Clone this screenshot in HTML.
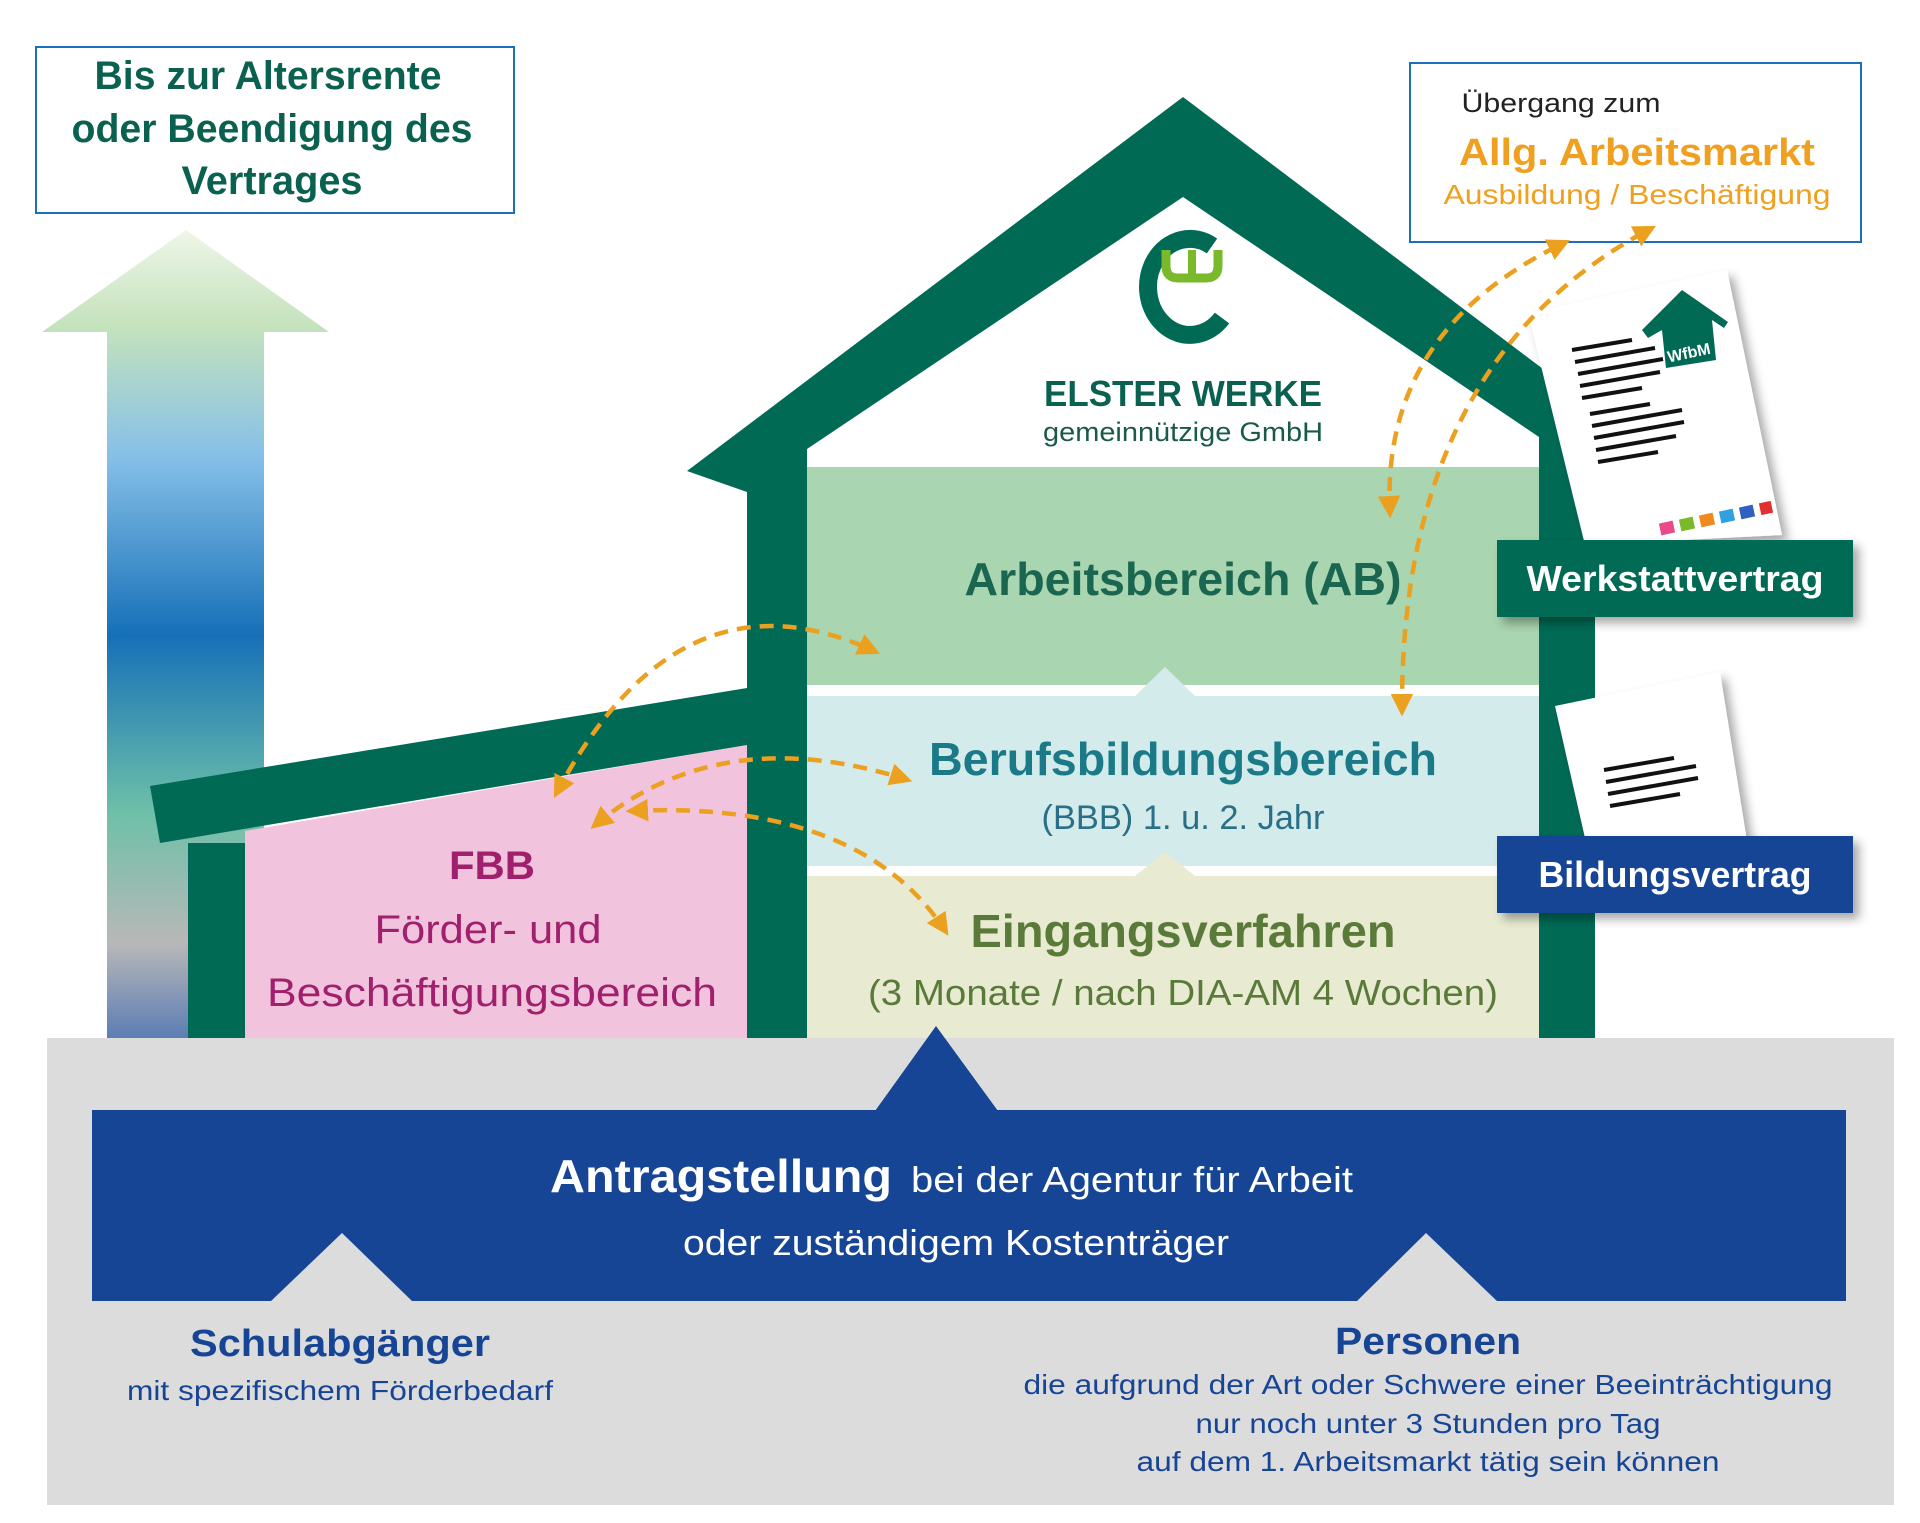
<!DOCTYPE html>
<html><head><meta charset="utf-8"><style>
html,body{margin:0;padding:0;background:#fff;}
svg{display:block;font-family:"Liberation Sans",sans-serif;}
</style></head><body>
<svg width="1920" height="1523" viewBox="0 0 1920 1523" xmlns="http://www.w3.org/2000/svg">
<defs>
<linearGradient id="ag" x1="0" y1="0" x2="0" y2="1">
<stop offset="0" stop-color="#eef6e8"/>
<stop offset="0.12" stop-color="#c4e2bc"/>
<stop offset="0.28" stop-color="#86c0e8"/>
<stop offset="0.50" stop-color="#1670b8"/>
<stop offset="0.72" stop-color="#6ec0a8"/>
<stop offset="0.88" stop-color="#b8b8b8"/>
<stop offset="1" stop-color="#5b7cb4"/>
</linearGradient>
<marker id="ah" viewBox="0 0 10 10" refX="8" refY="5" markerWidth="5" markerHeight="5" orient="auto-start-reverse" markerUnits="strokeWidth">
<path d="M0,0 L10,5 L0,10 z" fill="#eba020"/>
</marker>
<filter id="sh" x="-10%" y="-10%" width="130%" height="140%"><feDropShadow dx="6" dy="6" stdDeviation="5" flood-color="#000" flood-opacity="0.35"/></filter>
</defs>

<!-- top-left box -->
<rect x="36" y="47" width="478" height="166" fill="#fff" stroke="#1a6fc0" stroke-width="2"/>
<g fill="#0b6150" font-weight="bold" font-size="40" text-anchor="middle">
<text x="268" y="89" textLength="347" lengthAdjust="spacingAndGlyphs">Bis zur Altersrente</text>
<text x="272" y="142" textLength="401" lengthAdjust="spacingAndGlyphs">oder Beendigung des</text>
<text x="272" y="194" textLength="181" lengthAdjust="spacingAndGlyphs">Vertrages</text>
</g>

<!-- arrow -->
<polygon points="186,230 329,332 264,332 264,1040 107,1040 107,332 42,332" fill="url(#ag)"/>

<!-- gray base -->
<rect x="47" y="1038" width="1847" height="467" fill="#dcdcdc"/>

<!-- bands -->
<rect x="807" y="467" width="732" height="218" fill="#a9d5b0"/>
<rect x="807" y="696" width="732" height="170" fill="#d4ebec"/>
<polygon points="1135,696 1165,667 1195,696" fill="#d4ebec"/>
<rect x="807" y="876" width="732" height="162" fill="#e8ebd2"/>
<polygon points="1135,876 1165,852 1195,876" fill="#e8ebd2"/>

<!-- pink annex -->
<polygon points="245,831 747,745 747,1038 245,1038" fill="#f2c3dc"/>
<polygon points="150,786 747,688 747,745 160,843" fill="#006a55"/>
<rect x="188" y="843" width="57" height="195" fill="#006a55"/>

<!-- house -->
<polygon points="687,471 1183,97 1600,412 1595,412 1595,1038 1539,1038 1539,437 1183,197 807,449 807,1038 747,1038 747,492" fill="#006a55"/>

<!-- logo -->
<path d="M1212,246 A42,48 0 1 0 1222,318" fill="none" stroke="#006a55" stroke-width="18"/>
<path d="M1166,250 L1166,266 Q1166,278 1178,278 L1206,278 Q1218,278 1218,266 L1218,250" fill="none" stroke="#7ab929" stroke-width="9"/>
<line x1="1192" y1="250" x2="1192" y2="276" stroke="#7ab929" stroke-width="8"/>
<text x="1183" y="406" fill="#0b6150" font-weight="bold" font-size="36" text-anchor="middle" textLength="278" lengthAdjust="spacingAndGlyphs">ELSTER WERKE</text>
<text x="1183" y="441" fill="#1a5a48" font-size="27" text-anchor="middle" textLength="280" lengthAdjust="spacingAndGlyphs">gemeinnützige GmbH</text>

<!-- band texts -->
<text x="1183" y="595" fill="#1a6650" font-weight="bold" font-size="46" text-anchor="middle" textLength="437" lengthAdjust="spacingAndGlyphs">Arbeitsbereich (AB)</text>
<text x="1183" y="775" fill="#1b7a88" font-weight="bold" font-size="46" text-anchor="middle" textLength="508" lengthAdjust="spacingAndGlyphs">Berufsbildungsbereich</text>
<text x="1183" y="829" fill="#2a6f88" font-size="34" text-anchor="middle" textLength="283" lengthAdjust="spacingAndGlyphs">(BBB) 1. u. 2. Jahr</text>
<text x="1183" y="947" fill="#5a7a3a" font-weight="bold" font-size="46" text-anchor="middle" textLength="425" lengthAdjust="spacingAndGlyphs">Eingangsverfahren</text>
<text x="1183" y="1005" fill="#5a7a3a" font-size="36" text-anchor="middle" textLength="630" lengthAdjust="spacingAndGlyphs">(3 Monate / nach DIA-AM 4 Wochen)</text>

<text x="492" y="879" fill="#a0206e" font-weight="bold" font-size="40" text-anchor="middle" textLength="86" lengthAdjust="spacingAndGlyphs">FBB</text>
<text x="488" y="943" fill="#a0206e" font-size="40" text-anchor="middle" textLength="227" lengthAdjust="spacingAndGlyphs">Förder- und</text>
<text x="492" y="1006" fill="#a0206e" font-size="40" text-anchor="middle" textLength="450" lengthAdjust="spacingAndGlyphs">Beschäftigungsbereich</text>

<!-- top-right box -->
<rect x="1410" y="63" width="451" height="179" fill="#fff" stroke="#1a6fc0" stroke-width="2"/>
<text x="1561" y="112" fill="#222" font-size="27" text-anchor="middle" textLength="199" lengthAdjust="spacingAndGlyphs">Übergang zum</text>
<text x="1637" y="165" fill="#f0a020" font-weight="bold" font-size="38" text-anchor="middle" textLength="356" lengthAdjust="spacingAndGlyphs">Allg. Arbeitsmarkt</text>
<text x="1637" y="204" fill="#f0a020" font-size="28" text-anchor="middle" textLength="387" lengthAdjust="spacingAndGlyphs">Ausbildung / Beschäftigung</text>

<!-- documents -->
<g filter="url(#sh)">
<polygon points="1528,313 1727,270 1782,535 1585,545" fill="#fff"/>
<polygon points="1555,706 1720,672 1750,860 1590,860" fill="#fff"/>
</g>
<g stroke="#111" stroke-width="4" fill="none">
<path d="M1572,350 l60,-10 M1575,362 l80,-14 M1578,374 l85,-15 M1580,386 l80,-14 M1582,398 l60,-10"/>
<path d="M1590,414 l60,-10 M1592,426 l90,-16 M1594,438 l90,-16 M1596,450 l80,-14 M1598,462 l60,-10"/>
<path d="M1604,770 l70,-12 M1606,782 l90,-16 M1608,794 l90,-16 M1610,806 l70,-12"/>
</g>
<polygon points="1642,330 1682,290 1728,322 1724,328 1712,320 1716,360 1666,368 1662,330 1648,338" fill="#006a55"/>
<text x="1690" y="358" fill="#fff" font-size="16" font-weight="bold" text-anchor="middle" transform="rotate(-12 1690 358)">WfbM</text>
<g>
<rect x="1660" y="522" width="14" height="12" fill="#e84a8a" transform="rotate(-12 1667 528)"/>
<rect x="1680" y="518" width="14" height="12" fill="#7ab929" transform="rotate(-12 1687 524)"/>
<rect x="1700" y="514" width="14" height="12" fill="#f08a20" transform="rotate(-12 1707 520)"/>
<rect x="1720" y="510" width="14" height="12" fill="#30a0e0" transform="rotate(-12 1727 516)"/>
<rect x="1740" y="506" width="14" height="12" fill="#3060c0" transform="rotate(-12 1747 512)"/>
<rect x="1760" y="502" width="12" height="12" fill="#e03030" transform="rotate(-12 1766 508)"/>
</g>

<rect x="1497" y="540" width="356" height="77" fill="#006a55" filter="url(#sh)"/>
<text x="1675" y="591" fill="#fff" font-weight="bold" font-size="36" text-anchor="middle" textLength="297" lengthAdjust="spacingAndGlyphs">Werkstattvertrag</text>
<rect x="1497" y="836" width="356" height="77" fill="#174596" filter="url(#sh)"/>
<text x="1675" y="887" fill="#fff" font-weight="bold" font-size="36" text-anchor="middle" textLength="273" lengthAdjust="spacingAndGlyphs">Bildungsvertrag</text>

<!-- blue band -->
<rect x="92" y="1110" width="1754" height="191" fill="#174596"/>
<polygon points="875,1111 936,1026 998,1111" fill="#174596"/>
<polygon points="270,1302 342,1233 413,1302" fill="#dcdcdc"/>
<polygon points="1356,1302 1426,1233 1498,1302" fill="#dcdcdc"/>
<text x="721" y="1192" fill="#fff" font-weight="bold" font-size="46" text-anchor="middle" textLength="342" lengthAdjust="spacingAndGlyphs">Antragstellung</text>
<text x="1132" y="1192" fill="#fff" font-size="36" text-anchor="middle" textLength="442" lengthAdjust="spacingAndGlyphs">bei der Agentur für Arbeit</text>
<text x="956" y="1255" fill="#fff" font-size="36" text-anchor="middle" textLength="546" lengthAdjust="spacingAndGlyphs">oder zuständigem Kostenträger</text>

<!-- bottom texts -->
<g fill="#174596" text-anchor="middle">
<text x="340" y="1356" font-weight="bold" font-size="38" textLength="300" lengthAdjust="spacingAndGlyphs">Schulabgänger</text>
<text x="340" y="1400" font-size="28" textLength="426" lengthAdjust="spacingAndGlyphs">mit spezifischem Förderbedarf</text>
<text x="1428" y="1354" font-weight="bold" font-size="38" textLength="186" lengthAdjust="spacingAndGlyphs">Personen</text>
<text x="1428" y="1394" font-size="28" textLength="809" lengthAdjust="spacingAndGlyphs">die aufgrund der Art oder Schwere einer Beeinträchtigung</text>
<text x="1428" y="1433" font-size="28" textLength="465" lengthAdjust="spacingAndGlyphs">nur noch unter 3 Stunden pro Tag</text>
<text x="1428" y="1471" font-size="28" textLength="583" lengthAdjust="spacingAndGlyphs">auf dem 1. Arbeitsmarkt tätig sein können</text>
</g>

<!-- dashed arrows -->
<g fill="none" stroke="#eba020" stroke-width="4.5" stroke-dasharray="14,9" marker-start="url(#ah)" marker-end="url(#ah)">
<path d="M556,794 Q680,560 876,652"/>
<path d="M594,826 Q720,720 908,780"/>
<path d="M630,811 Q860,800 946,932"/>
<path d="M1390,514 Q1380,330 1566,242"/>
<path d="M1402,712 Q1400,360 1652,228"/>
</g>
</svg>
</body></html>
